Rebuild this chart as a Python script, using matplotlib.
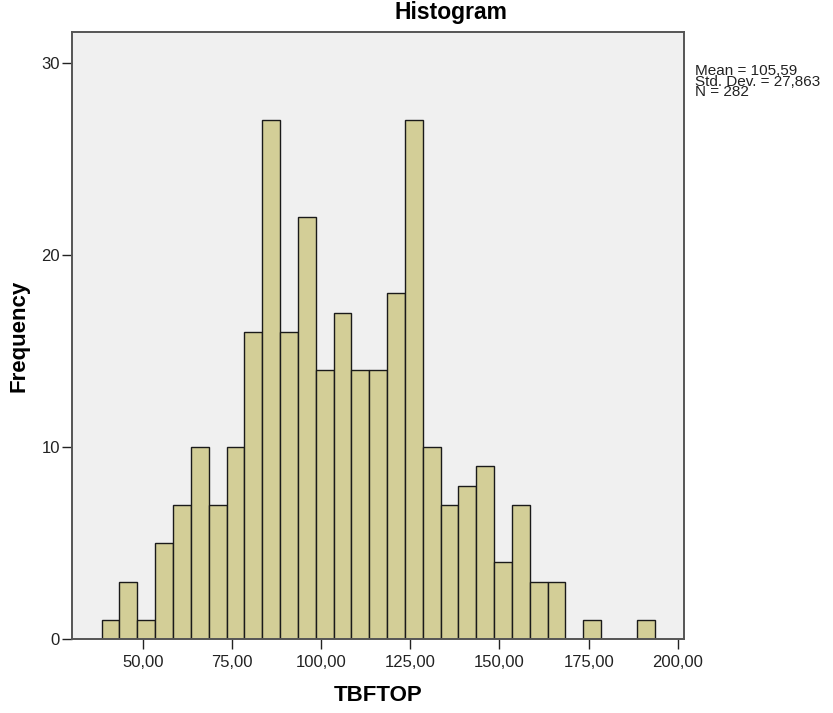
import numpy as np
import matplotlib
matplotlib.use('Agg')
import matplotlib.pyplot as plt

plt.rcParams['font.family'] = ['Liberation Sans', 'DejaVu Sans']

# histogram of TBFTOP, bins of width 5 starting at 38.5
bin_start = 38.5
bin_width = 5.0
counts = [1, 3, 1, 5, 7, 10, 7, 10, 16, 27, 16, 22, 14, 17, 14, 14, 18, 27,
          10, 7, 8, 9, 4, 7, 3, 3, 0, 1, 0, 0, 1]
xticks = [50, 75, 100, 125, 150, 175, 200]
xtick_labels = ['50,00', '75,00', '100,00', '125,00', '150,00', '175,00', '200,00']
yticks = [0, 10, 20, 30]
stats_lines = ['Mean = 105,59', 'Std. Dev. = 27,863', 'N = 282']

lefts = bin_start + bin_width * np.arange(len(counts))

fig = plt.figure(figsize=(8.33, 7.13), dpi=100)
ax = fig.add_axes([0.086, 0.1034, 0.7355, 0.8516])
ax.set_facecolor('#f0f0f0')

ax.bar(lefts, counts, width=bin_width, align='edge', color='#d3ce97',
       edgecolor='#1a1a1a', linewidth=1.0)

ax.set_xlim(30.1, 201.8)
ax.set_ylim(0, 31.6)
ax.set_xticks(xticks)
ax.set_xticklabels(xtick_labels)
ax.set_yticks(yticks)
ax.tick_params(axis='both', direction='out', length=7, width=1.0,
               colors='#222222', labelsize=12, labelcolor='#222222')
ax.tick_params(axis='y', pad=1.5)
ax.tick_params(axis='x', pad=4)
for s in ax.spines.values():
    s.set_color('#555555')
    s.set_linewidth(1.4)

ax.set_xlabel('TBFTOP', fontsize=16, fontweight='bold')
ax.set_ylabel('Frequency', fontsize=16, fontweight='bold')
ax.xaxis.set_label_coords(0.5, -0.076)
ax.yaxis.set_label_coords(-0.068, 0.5)

fig.text(0.541, 1 - 13 / 713, 'Histogram', ha='center', va='center',
         fontsize=16.5, fontweight='bold')
# stats block as one text, lines packed tight like SPSS does
fig.text(695 / 833, 1 - 64 / 713, '\n'.join(stats_lines), ha='left',
         va='top', fontsize=11, linespacing=0.7, color='#222222')

fig.savefig('out.png', dpi=100)
